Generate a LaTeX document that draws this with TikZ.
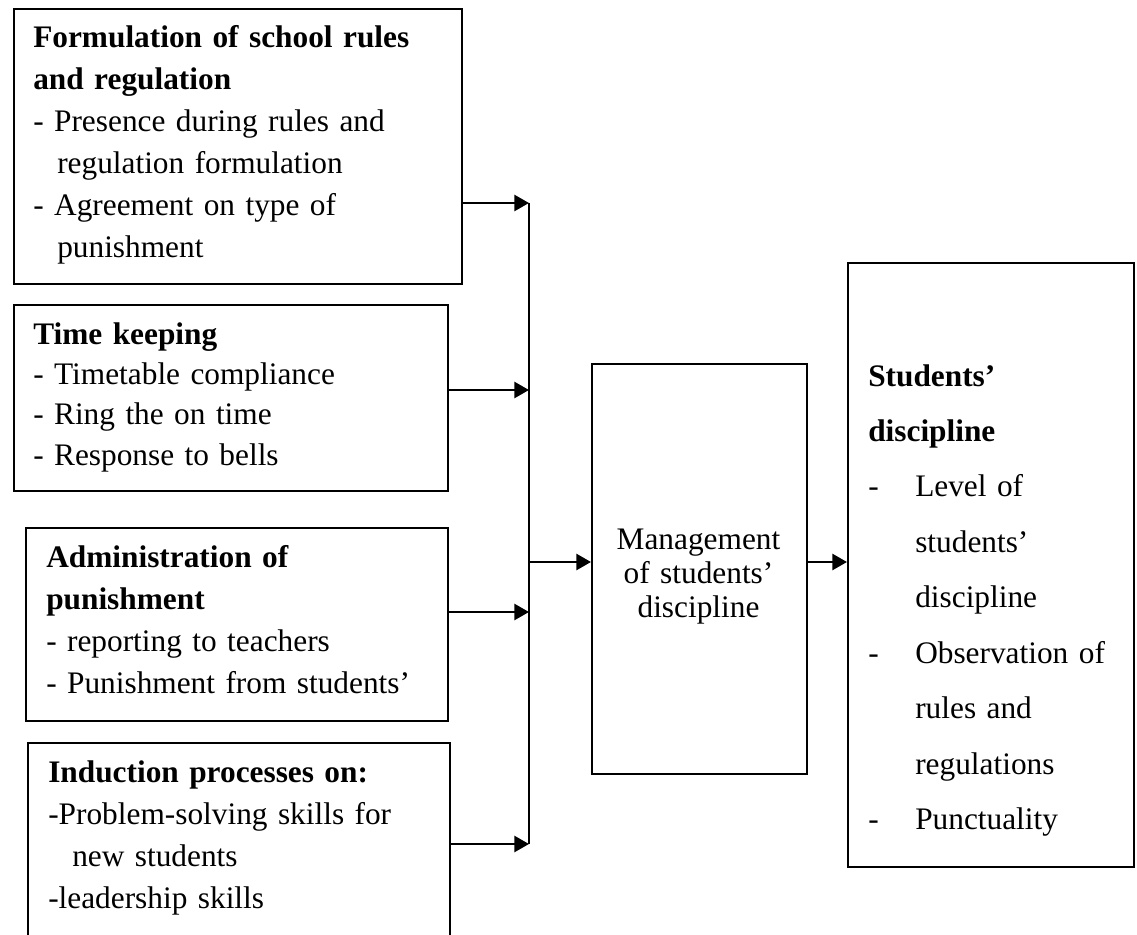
\documentclass[tikz,border=0pt]{standalone}
\usepackage{fontspec}
\setmainfont{Liberation Serif}
\usetikzlibrary{arrows.meta}
\tikzset{
  box/.style={draw, line width=1.5pt, rectangle, inner sep=0pt, anchor=north west},
  txt/.style={inner sep=0pt, anchor=base west, align=left, text width=330pt},
  arr/.style={line width=2pt, -{Triangle[length=11pt,width=12pt]}},
  trunk/.style={line width=1.6pt},
}
\begin{document}
\begin{tikzpicture}[x=0.75pt,y=-0.75pt]
\useasboundingbox (0,0) rectangle (1137,934);
% boxes
\node[box, minimum width=448*0.75pt, minimum height=275*0.75pt] (b1) at (13,8) {};
\node[box, minimum width=434*0.75pt, minimum height=186*0.75pt] (b2) at (13,304) {};
\node[box, minimum width=422*0.75pt, minimum height=193*0.75pt] (b3) at (25,527) {};
\node[box, minimum width=422*0.75pt, minimum height=215*0.75pt] (b4) at (27,742) {};
\node[box, minimum width=215*0.75pt, minimum height=410*0.75pt] (m) at (591,363) {};
\node[box, minimum width=286*0.75pt, minimum height=604*0.75pt] (r) at (847,262) {};
% texts
\node[txt, font=\fontsize{23.5}{31.5}\selectfont] (t1) at (33,48) {\textbf{Formulation of school rules}\\
\textbf{and regulation}\\
- Presence during rules and\\
\hspace*{18pt}regulation formulation\\
- Agreement on type of\\
\hspace*{18pt}punishment};
\node[txt, font=\fontsize{23.5}{30.25}\selectfont] (t2) at (33,344) {\textbf{Time keeping}\\
- Timetable compliance\\
- Ring the on time\\
- Response to bells};
\node[txt, font=\fontsize{23.5}{31.5}\selectfont] (t3) at (46,567) {\textbf{Administration of}\\
\textbf{punishment}\\
- reporting to teachers\\
- Punishment from students’};
\node[txt, font=\fontsize{23.5}{31.5}\selectfont] (t4) at (48,782) {\textbf{Induction processes on:}\\
-Problem-solving skills for\\
\hspace*{18pt}new students\\
-leadership skills};
\node[inner sep=0pt, anchor=base, align=center, text width=160pt, font=\fontsize{23.5}{25.5}\selectfont] (mt) at (698.5,549) {Management\\ of students’\\ discipline};
\node[txt, font=\fontsize{23.5}{41.6}\selectfont] (rt) at (868,386) {\textbf{Students’}\\
\textbf{discipline}\\
\makebox[35.25pt][l]{-}Level of\\
\hspace*{35.25pt}students’\\
\hspace*{35.25pt}discipline\\
\makebox[35.25pt][l]{-}Observation of\\
\hspace*{35.25pt}rules and\\
\hspace*{35.25pt}regulations\\
\makebox[35.25pt][l]{-}Punctuality};
% junctions
\coordinate (j1) at (529,203);
\coordinate (j2) at (529,390);
\coordinate (j3) at (529,612);
\coordinate (j4) at (529,844);
\coordinate (jm) at (529,562);
% connectors
\draw[trunk] (j1) -- (j4);
\draw[arr] (b1.east |- j1) -- (j1);
\draw[arr] (b2.east |- j2) -- (j2);
\draw[arr] (b3.east |- j3) -- (j3);
\draw[arr] (b4.east |- j4) -- (j4);
\draw[arr] (jm) -- (m.west |- jm);
\draw[arr] (m.east |- jm) -- (r.west |- jm);
\end{tikzpicture}
\end{document}
